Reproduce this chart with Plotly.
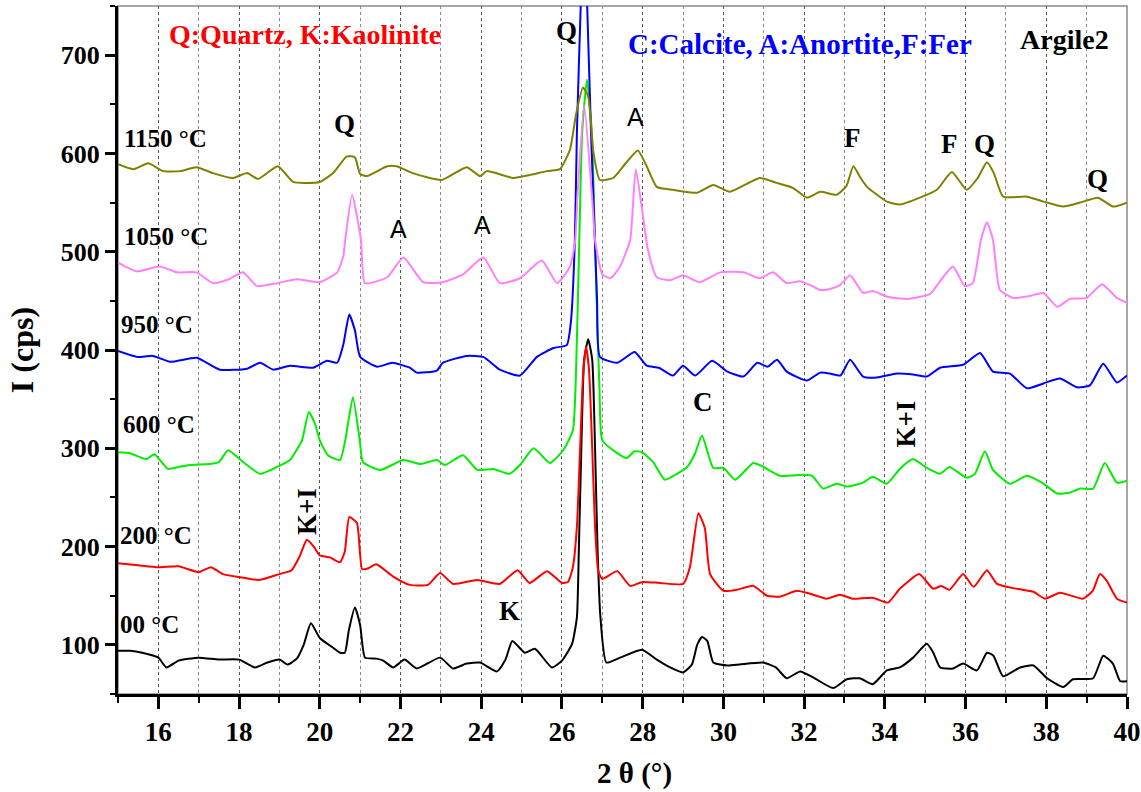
import plotly.graph_objects as go

# ---------------- data ----------------
x_00 = [15.0, 15.3, 15.6, 16.0, 16.2, 16.5, 17.0, 17.5, 18.0, 18.4, 18.7, 19.0, 19.2, 19.43, 19.6, 19.78,
        20.0, 20.33, 20.5, 20.62, 20.72, 20.87, 21.0, 21.12, 21.4, 21.57, 21.82, 22.1, 22.4, 22.98, 23.3,
        23.64, 23.97, 24.39, 24.6, 24.77, 25.08, 25.33, 25.75, 26.0, 26.25, 26.37, 26.42, 26.48, 26.55,
        26.65, 26.75, 26.82, 26.88, 26.95, 27.1, 27.44, 27.98, 28.35, 28.68, 29.0, 29.22, 29.35, 29.47,
        29.6, 29.75, 30.1, 30.4, 30.98, 31.3, 31.57, 31.9, 32.22, 32.72, 33.06, 33.38, 33.7, 34.05, 34.37,
        34.7, 35.04, 35.2, 35.37, 35.69, 35.94, 36.28, 36.53, 36.69, 36.93, 37.35, 37.68, 38.02, 38.42,
        38.66, 39.16, 39.41, 39.65, 39.83, 40.0]
y_00 = [94, 94, 92, 87, 77, 84, 87, 85, 85, 77, 82, 85, 80, 86, 100, 122,
        107, 97, 92, 92, 115, 138, 120, 87, 86, 84, 77, 85, 76, 87, 76,
        81, 82, 73, 85, 104, 92, 96, 77, 84, 101, 128, 200, 300, 390,
        411, 390, 300, 200, 130, 82, 87, 95, 85, 77, 72, 80, 100, 108,
        104, 82, 79, 80, 82, 77, 66, 73, 67, 56, 65, 66, 60, 74, 77,
        87, 101, 92, 77, 76, 81, 74, 92, 89, 68, 77, 79, 66, 57,
        65, 66, 89, 81, 63, 63]

x_200 = [15.0, 15.5, 16.0, 16.5, 17.0, 17.3, 17.6, 18.0, 18.5, 19.0, 19.3, 19.5, 19.68, 19.85, 20.0, 20.25,
         20.5, 20.62, 20.73, 20.92, 21.05, 21.2, 21.4, 21.8, 22.23, 22.68, 22.98, 23.3, 23.9, 24.46, 24.9,
         25.2, 25.63, 26.0, 26.15, 26.27, 26.37, 26.45, 26.53, 26.6, 26.67, 26.75, 26.82, 26.9, 27.0,
         27.37, 27.69, 28.0, 28.43, 29.0, 29.17, 29.38, 29.54, 29.67, 30.0, 30.33, 30.74, 31.08, 31.4,
         31.82, 32.15, 32.56, 32.89, 33.2, 33.7, 34.08, 34.37, 34.85, 35.2, 35.4, 35.6, 35.94, 36.2, 36.53,
         36.78, 37.27, 37.68, 37.97, 38.34, 38.91, 39.15, 39.33, 39.5, 39.75, 40.0]
y_200 = [183, 181, 179, 180, 174, 179, 172, 169, 166, 172, 176, 190, 207, 200, 191, 189,
         184, 195, 230, 224, 177, 178, 182, 170, 161, 161, 173, 162, 166, 162, 176,
         163, 175, 163, 164, 179, 220, 300, 380, 403, 380, 300, 220, 175, 167,
         175, 160, 164, 163, 162, 179, 234, 219, 172, 155, 156, 160, 150, 149,
         155, 152, 147, 151, 147, 148, 143, 157, 172, 157, 160, 156, 172, 159, 176,
         162, 157, 154, 147, 153, 147, 155, 172, 165, 147, 143]

x_600 = [15.0, 15.3, 15.7, 15.9, 16.24, 16.5, 16.78, 17.27, 17.5, 17.73, 18.1, 18.52, 18.94, 19.26, 19.45,
         19.56, 19.73, 19.88, 20.0, 20.2, 20.5, 20.63, 20.82, 20.99, 21.07, 21.5, 22.07, 22.5, 22.9, 23.1,
         23.55, 23.9, 24.3, 24.7, 24.96, 25.3, 25.7, 26.03, 26.27, 26.35, 26.43, 26.5, 26.62, 26.74, 26.8,
         26.86, 26.93, 27.0, 27.37, 27.6, 27.8, 27.98, 28.26, 28.55, 28.85, 29.1, 29.3, 29.47, 29.75, 30.0,
         30.29, 30.74, 30.95, 31.4, 31.98, 32.2, 32.47, 32.81, 33.06, 33.46, 33.7, 34.05, 34.37, 34.7,
         35.04, 35.37, 35.6, 36.03, 36.23, 36.48, 36.68, 37.1, 37.52, 37.93, 38.27, 38.59, 38.84, 39.16,
         39.45, 39.75, 40.0]
y_600 = [296, 295, 289, 294, 279, 281, 283, 284, 286, 298, 286, 274, 281, 288, 300,
         308, 337, 325, 308, 293, 288, 308, 352, 308, 286, 278, 288, 284, 288, 283,
         293, 278, 279, 274, 283, 300, 285, 298, 318, 380, 512, 621, 675, 621, 540,
         450, 360, 308, 295, 290, 297, 296, 286, 268, 274, 281, 295, 313, 280, 280,
         268, 285, 282, 272, 273, 272, 259, 264, 261, 265, 271, 264, 279, 289,
         280, 274, 281, 270, 274, 297, 278, 264, 272, 264, 254, 255, 259, 259,
         285, 265, 267]

x_950 = [15.0, 15.47, 15.87, 16.29, 16.95, 17.52, 18.2, 18.52, 18.85, 19.26, 19.83, 20.18, 20.43, 20.58,
         20.73, 20.87, 21.0, 21.42, 21.8, 22.23, 22.4, 22.9, 23.05, 23.64, 24.05, 24.46, 24.96, 25.38,
         25.79, 26.12, 26.22, 26.32, 26.37, 26.47, 26.55, 26.62, 26.72, 26.78, 26.87, 26.94, 27.37, 27.8,
         28.1, 28.4, 28.75, 29.0, 29.3, 29.72, 30.1, 30.5, 30.84, 31.1, 31.33, 31.57, 32.07, 32.4, 32.64,
         32.9, 33.14, 33.46, 33.8, 34.3, 34.7, 35.04, 35.37, 35.94, 36.36, 36.68, 37.1, 37.52, 37.93,
         38.34, 38.76, 39.08, 39.41, 39.75, 40.0]
y_950 = [399, 393, 394, 388, 392, 380, 381, 387, 380, 384, 382, 389, 387, 405,
         436, 420, 393, 383, 387, 382, 377, 379, 387, 394, 393, 380, 374, 393,
         402, 405, 428, 512, 621, 757, 840, 757, 621, 553, 450, 393, 387, 398,
         384, 382, 374, 384, 374, 389, 378, 373, 387, 383, 390, 378, 369, 377, 376,
         374, 390, 373, 372, 376, 375, 373, 382, 385, 397, 378, 376, 361, 366,
         371, 362, 364, 386, 367, 374]

x_1050 = [15.0, 15.47, 16.04, 16.46, 16.95, 17.35, 17.75, 18.1, 18.44, 18.94, 19.43, 20.0, 20.43, 20.58,
          20.63, 20.8, 21.02, 21.12, 21.67, 22.07, 22.56, 23.05, 23.55, 24.05, 24.46, 24.96, 25.5, 25.88,
          26.2, 26.33, 26.38, 26.55, 26.75, 26.82, 27.0, 27.2, 27.44, 27.69, 27.83, 28.13, 28.35, 28.68,
          29.0, 29.42, 29.92, 30.5, 30.9, 31.23, 31.57, 31.9, 32.15, 32.4, 32.64, 32.89, 33.14, 33.46,
          33.7, 34.08, 34.57, 35.12, 35.44, 35.69, 35.98, 36.18, 36.38, 36.53, 36.68, 36.85, 37.18, 37.6,
          37.93, 38.27, 38.59, 39.0, 39.38, 39.75, 40.0]
y_1050 = [489, 480, 485, 479, 479, 468, 472, 479, 465, 468, 472, 469, 479, 495,
          512, 558, 512, 468, 474, 494, 469, 469, 477, 494, 468, 473, 491, 468,
          485, 512, 553, 649, 553, 512, 477, 473, 485, 512, 584, 502, 474, 471,
          476, 469, 479, 479, 473, 479, 468, 470, 466, 461, 462, 466, 476, 458,
          460, 454, 452, 457, 474, 485, 465, 468, 512, 530, 512, 461, 453, 455,
          458, 444, 452, 453, 467, 453, 448]

x_1150 = [15.0, 15.38, 15.75, 16.12, 16.54, 16.95, 17.35, 17.85, 18.2, 18.47, 18.96, 19.34, 20.0, 20.33,
          20.67, 20.87, 21.0, 21.17, 21.67, 21.9, 22.3, 23.02, 23.64, 23.97, 24.14, 24.8, 25.2, 25.63,
          25.95, 26.2, 26.35, 26.52, 26.65, 26.78, 26.94, 27.27, 27.6, 27.88, 28.1, 28.35, 28.75, 29.35,
          29.75, 30.16, 30.9, 31.32, 31.72, 32.07, 32.4, 32.81, 33.05, 33.22, 33.4, 33.56, 34.05, 34.37,
          34.87, 35.29, 35.66, 36.03, 36.3, 36.53, 36.7, 36.93, 37.52, 37.93, 38.42, 38.84, 39.28, 39.65,
          40.0]
y_1150 = [589, 584, 590, 582, 582, 586, 580, 575, 580, 574, 587, 571, 571, 580,
          597, 596, 579, 577, 587, 587, 580, 573, 586, 577, 582, 575, 578, 582,
          584, 604, 640, 667, 658, 601, 573, 575, 591, 603, 587, 566, 563, 560,
          568, 561, 575, 570, 565, 555, 561, 558, 567, 587, 575, 566, 551, 548,
          555, 563, 581, 563, 575, 591, 580, 556, 556, 551, 546, 550, 555, 546,
          550]

series = [
    ("00 °C", x_00, y_00, "#000000"),
    ("200 °C", x_200, y_200, "#ff0000"),
    ("600 °C", x_600, y_600, "#00ee00"),
    ("950 °C", x_950, y_950, "#0000ff"),
    ("1050 °C", x_1050, y_1050, "#ff80ff"),
    ("1150 °C", x_1150, y_1150, "#808000"),
]

# series labels: (text, x, y)
series_labels = [("1150 °C", 15.1, 615), ("1050 °C", 15.1, 515), ("950 °C", 15.02, 426),
                 ("600 °C", 15.08, 324), ("200 °C", 15.0, 211), ("00 °C", 15.0, 121)]

# peak labels: (text, x, y, font family, bold, angle)
peak_labels = [
    ("Q", 26.12, 725, "serif", True, 0),
    ("Q", 20.6, 630, "serif", True, 0),
    ("A", 21.94, 523, "sans", False, 0),
    ("A", 24.02, 527, "sans", False, 0),
    ("A", 27.81, 637, "sans", False, 0),
    ("F", 33.19, 616, "serif", True, 0),
    ("F", 35.59, 610, "serif", True, 0),
    ("Q", 36.48, 610, "serif", True, 0),
    ("Q", 39.26, 574, "serif", True, 0),
    ("C", 29.49, 347, "serif", True, 0),
    ("K+I", 34.52, 325, "serif", True, -90),
    ("K+I", 19.68, 236, "serif", True, -90),
    ("K", 24.71, 134, "serif", True, 0),
]

SERIF = "Liberation Serif"
SANS = "Liberation Sans"

fig = go.Figure()
for name, xs, ys, col in series:
    fig.add_trace(go.Scatter(x=xs, y=ys, mode="lines", name=name,
                             line=dict(color=col, width=2, shape="spline", smoothing=0.5),
                             showlegend=False))

ann = []
for t, x, y in series_labels:
    ann.append(dict(x=x, y=y, xref="x", yref="y", text=t, showarrow=False, xanchor="left",
                    font=dict(family=SERIF, size=25, color="black", weight="bold")))
for t, x, y, fam, bold, ang in peak_labels:
    ann.append(dict(x=x, y=y, xref="x", yref="y", text=t, showarrow=False, textangle=ang,
                    font=dict(family=SERIF if fam == "serif" else SANS,
                              size=27 if fam == "serif" else 25, color="black",
                              weight="bold" if bold else "normal")))
ann.append(dict(x=19.63, y=721, xref="x", yref="y", text="Q:Quartz, K:Kaolinite", showarrow=False,
                font=dict(family=SERIF, size=28, color="#ff0000", weight="bold")))
ann.append(dict(x=31.9, y=711, xref="x", yref="y", text="C:Calcite, A:Anortite,F:Fer", showarrow=False,
                font=dict(family=SERIF, size=29, color="#0000ff", weight="bold")))
ann.append(dict(x=38.46, y=716, xref="x", yref="y", text="Argile2", showarrow=False,
                font=dict(family=SERIF, size=28, color="black", weight="bold")))
ann.append(dict(x=-0.095, y=0.5, xref="paper", yref="paper", text="I (cps)", showarrow=False,
                xanchor="center", yanchor="middle",
                textangle=-90, font=dict(family=SERIF, size=32, color="black", weight="bold")))
ann.append(dict(x=0.512, y=-0.115, xref="paper", yref="paper", text="2 θ (°)", showarrow=False,
                xanchor="center", yanchor="middle",
                font=dict(family=SERIF, size=29, color="black", weight="bold")))

fig.update_layout(
    width=1141, height=792,
    margin=dict(l=118, r=14, t=6, b=98, autoexpand=False),
    paper_bgcolor="white", plot_bgcolor="white",
    annotations=ann,
    shapes=[dict(type="rect", xref="paper", yref="paper", x0=0, y0=0, x1=1, y1=1,
                 line=dict(color="#8a8a8a", width=1.5), layer="below")],
    xaxis=dict(range=[15, 40], tick0=0, dtick=2, showline=True, linecolor="black", linewidth=3,
               automargin=False,
               ticks="outside", ticklen=12, tickwidth=3, tickcolor="black", ticklabelstandoff=0,
               tickfont=dict(family=SERIF, size=27, color="black", weight="bold"),
               showgrid=True, gridcolor="#555555", griddash="dot", gridwidth=1, zeroline=False,
               minor=dict(dtick=1, tick0=0, ticks="outside", ticklen=6, tickwidth=2, tickcolor="black",
                          showgrid=True, gridcolor="#888888", griddash="dot", gridwidth=1)),
    yaxis=dict(range=[50, 750], tick0=0, dtick=100, showline=True, linecolor="black", linewidth=3,
               automargin=False,
               ticks="outside", ticklen=10, tickwidth=3, tickcolor="black", ticklabelstandoff=0,
               tickfont=dict(family=SERIF, size=26, color="black", weight="bold"),
               showgrid=False, zeroline=False,
               minor=dict(dtick=50, tick0=0, ticks="outside", ticklen=5, tickwidth=2, tickcolor="black",
                          showgrid=False)),
)

fig.write_html("out.html")
